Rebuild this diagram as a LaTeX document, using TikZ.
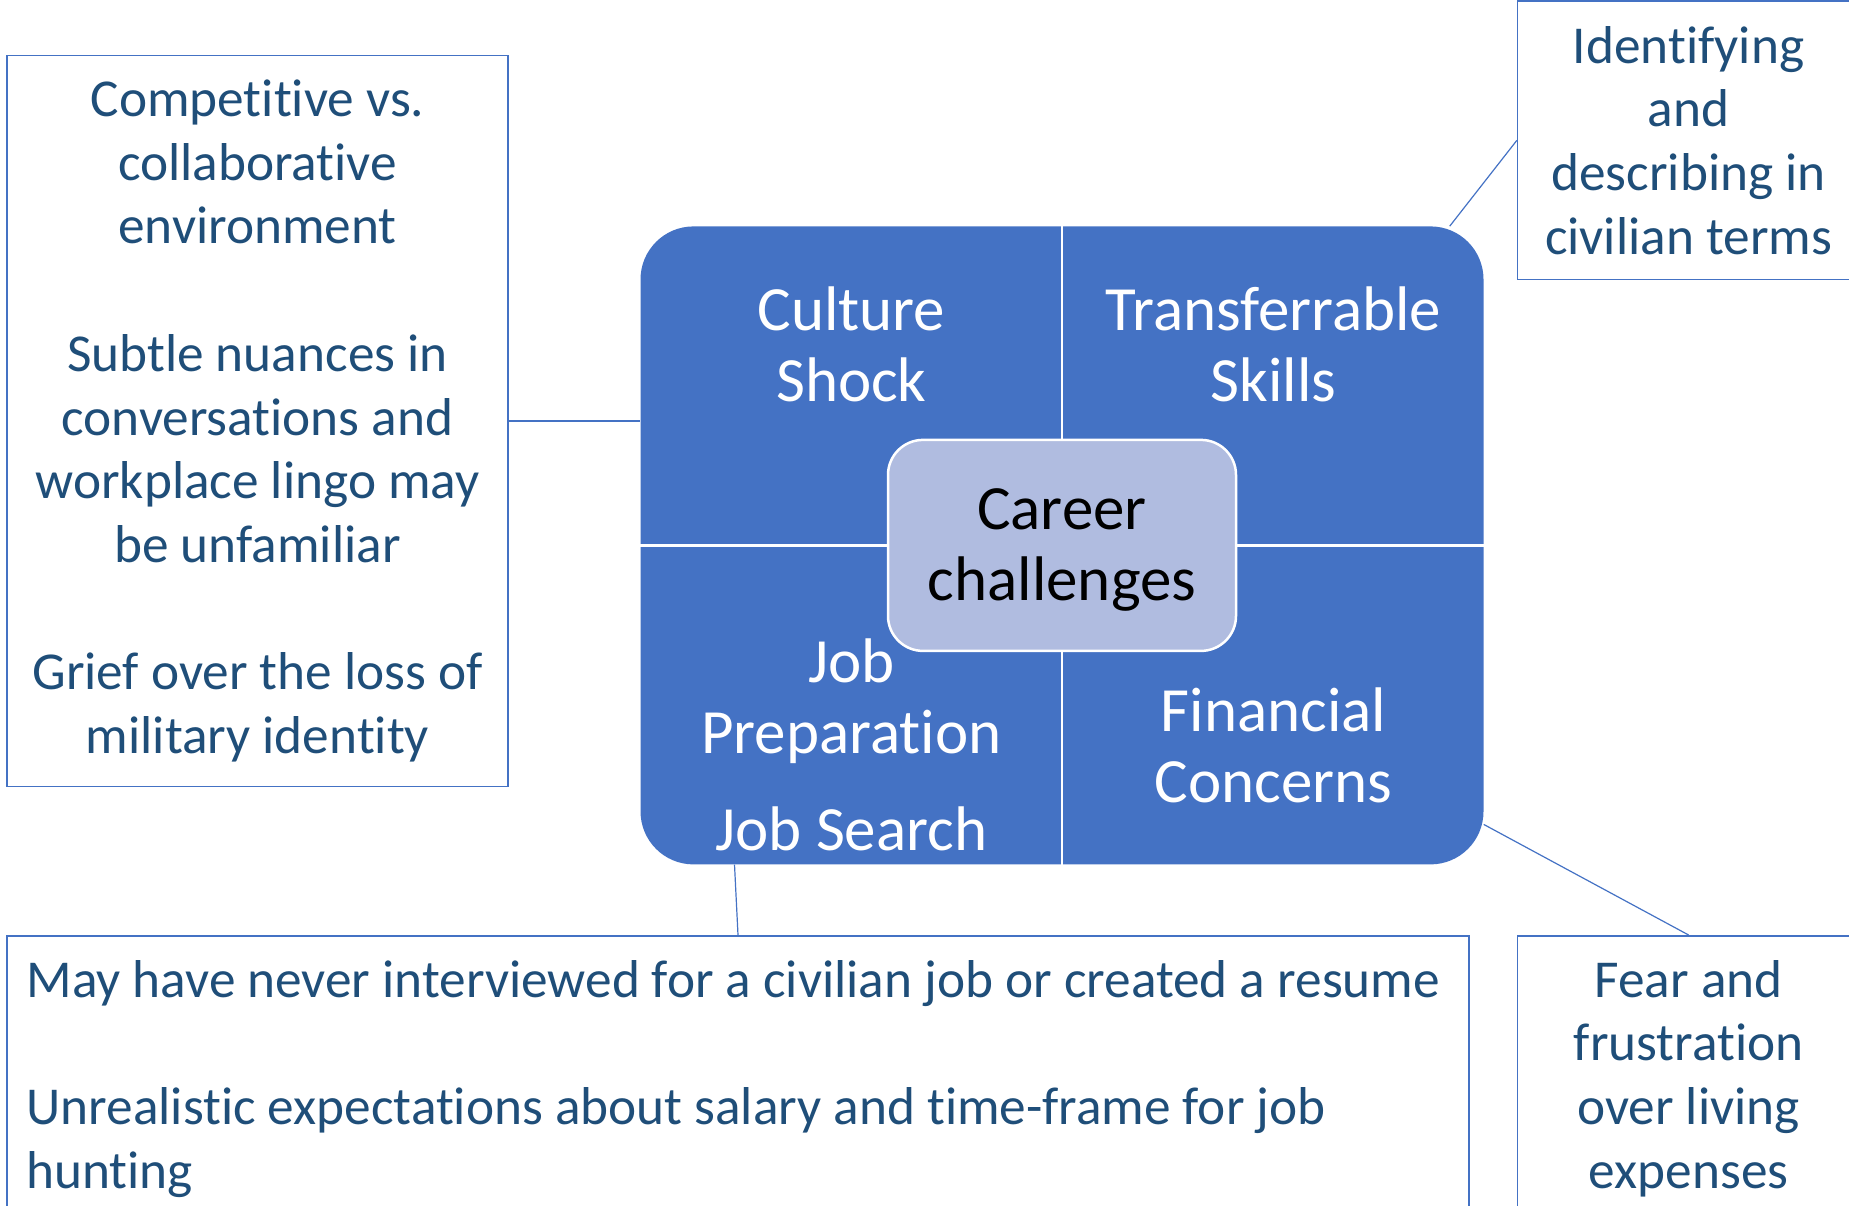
\documentclass[tikz,border=0pt]{standalone}
\usepackage{fontspec}
\setmainfont{Carlito}[Ligatures=NoCommon]
\definecolor{boxblue}{RGB}{68,114,196}
\definecolor{coreblue}{RGB}{176,188,224}
\definecolor{noteblue}{RGB}{31,78,121}
\newcommand\notefont{\fontsize{53.3}{63.7}\selectfont}
\newcommand\quadfont{\fontsize{63}{70.7}\selectfont}
\tikzset{
  notebox/.style={draw=boxblue, line width=1.5pt, fill=white, inner sep=0pt},
  notetext/.style={text=noteblue, font=\notefont, inner sep=0pt},
  quadtext/.style={text=white, font=\quadfont, align=center, inner sep=0pt},
  link/.style={draw=boxblue, line width=1.2pt},
  divider/.style={draw=white, line width=2.5pt},
}
\begin{document}
\begin{tikzpicture}[x=1pt,y=-1pt]
\useasboundingbox (0,0) rectangle (1849,1206);
\clip (0,0) rectangle (1849,1206);

% the four challenges
\node[fill=boxblue, rounded corners=53pt, minimum width=843pt, minimum height=638pt, inner sep=0pt] (main) at (1062,545.4) {};
\draw[divider] (main.north) -- (main.south);
\draw[divider] (main.west) -- (main.east);

\node[quadtext] (cshock) at (851.4,344.3) {Culture\\Shock};
\node[quadtext] (tskills) at (1273.5,344.3) {Transferrable\\Skills};
\node[quadtext] (jprep) at (851.4,701) {Job\\Preparation};
\node[quadtext] (jsearch) at (851.4,829) {Job Search};
\node[quadtext] (fconcern) at (1273.5,745.2) {Financial\\Concerns};

\node[fill=coreblue, draw=white, line width=2.5pt, rounded corners=35pt, minimum width=348pt, minimum height=211pt, font=\quadfont, align=center, inner sep=0pt, text depth=2pt] (core) at (main.center) {Career\\challenges};

% notes
\node[notebox, notetext, align=center, minimum width=501pt, minimum height=731pt] (culture) at (257.5,421) {Competitive vs.\\collaborative\\environment\\[63.7pt]Subtle nuances in\\conversations and\\workplace lingo may\\be unfamiliar\\[63.7pt]Grief over the loss of\\military identity};

\node[notebox, notetext, align=center, minimum width=342pt, minimum height=278.3pt] (skills) at (1688.6,140.35) {Identifying\\and\\describing in\\civilian terms};

\node[notebox, minimum width=1462pt, minimum height=290pt, anchor=north] (search) at (738,935) {};
\node[notetext, align=left, anchor=north west] (searchtext) at ([xshift=20pt,yshift=-25pt]search.north west) {May have never interviewed for a civilian job or created a resume\\[63.7pt]Unrealistic expectations about salary and time-frame for job\\hunting};

\node[notebox, minimum width=342pt, minimum height=290pt, anchor=north] (money) at (1688.6,935) {};
\node[notetext, align=center, anchor=north] (moneytext) at ([yshift=-25pt]money.north) {Fear and\\frustration\\over living\\expenses};

% connectors
\draw[link] (culture.east) -- (culture.east -| main.west);
\draw[link] (skills.west) -- ([xshift=-34pt]main.north east);
\draw[link] ([xshift=-3.5pt]search.north |- main.south) -- (search.north);
\draw[link] (money.north) -- ([yshift=-279pt]main.east);
\end{tikzpicture}
\end{document}
